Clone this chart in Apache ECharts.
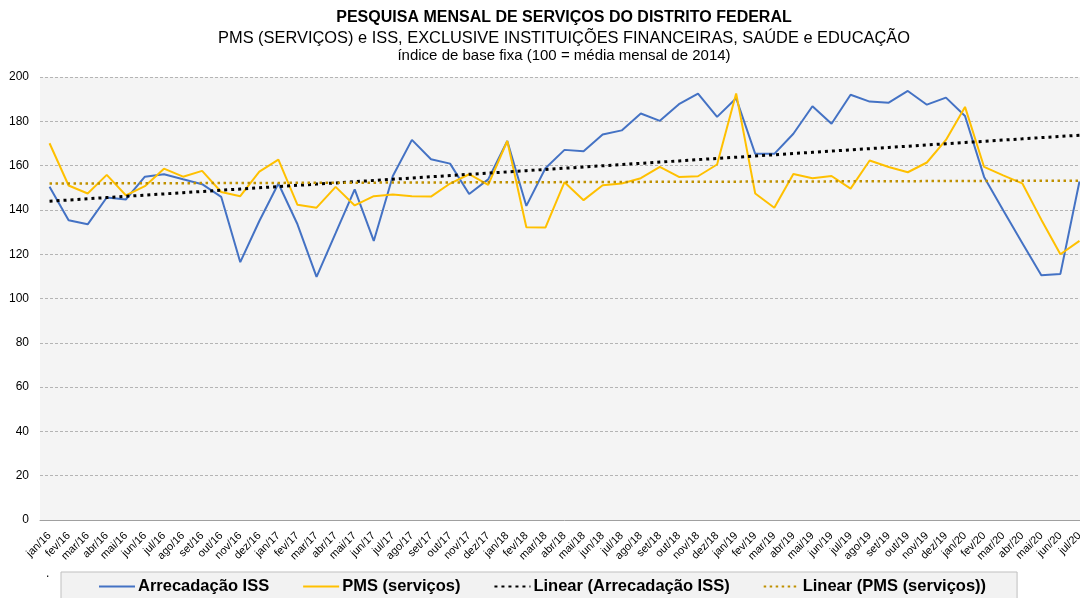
<!DOCTYPE html>
<html>
<head>
<meta charset="utf-8">
<script src="https://cdn.jsdelivr.net/npm/echarts@6/dist/echarts.min.js"></script>
<style>
  html, body { margin: 0; padding: 0; background: #fff; overflow: hidden; }
  /* o gráfico original é cortado na direita: a área útil passa da borda da imagem */
  #pms_iss_df { width: 1089px; height: 598px; }
</style>
</head>
<body>
<div id="pms_iss_df"></div>
<script>
  const meses = [
    'jan/16', 'fev/16', 'mar/16', 'abr/16', 'mai/16', 'jun/16', 'jul/16', 'ago/16', 'set/16', 'out/16', 'nov/16', 'dez/16',
    'jan/17', 'fev/17', 'mar/17', 'abr/17', 'mai/17', 'jun/17', 'jul/17', 'ago/17', 'set/17', 'out/17', 'nov/17', 'dez/17',
    'jan/18', 'fev/18', 'mar/18', 'abr/18', 'mai/18', 'jun/18', 'jul/18', 'ago/18', 'set/18', 'out/18', 'nov/18', 'dez/18',
    'jan/19', 'fev/19', 'mar/19', 'abr/19', 'mai/19', 'jun/19', 'jul/19', 'ago/19', 'set/19', 'out/19', 'nov/19', 'dez/19',
    'jan/20', 'fev/20', 'mar/20', 'abr/20', 'mai/20', 'jun/20', 'jul/20'
  ];

  const arrecadacaoISS = [
    150.5, 135.3, 133.5, 145.6, 144.7, 155.0, 156.1, 153.8, 151.6, 145.9, 116.4, 135.0,
    151.9, 133.5, 109.8, 129.5, 149.3, 126.0, 155.3, 171.6, 162.9, 160.9, 147.2, 153.8,
    171.1, 141.8, 158.8, 167.1, 166.5, 174.0, 175.9, 183.5, 180.2, 187.7, 192.5, 182.0,
    190.4, 165.3, 165.3, 174.4, 186.8, 178.9, 192.0, 188.9, 188.4, 193.7, 187.5, 190.7,
    182.4, 154.9, 139.8, 125.1, 110.5, 111.1, 152.8
  ];

  const pmsServicos = [
    170.1, 151.0, 147.4, 155.8, 146.6, 150.7, 158.6, 155.0, 157.6, 148.1, 146.2, 157.3,
    162.7, 142.3, 141.0, 150.4, 142.0, 146.2, 146.9, 146.2, 146.0, 151.9, 156.1, 151.3,
    171.1, 132.2, 132.0, 152.5, 144.4, 151.1, 151.9, 154.3, 159.4, 154.9, 155.2, 160.5,
    192.6, 147.4, 141.0, 156.2, 154.3, 155.3, 149.6, 162.3, 159.4, 157.0, 161.4, 171.6,
    186.5, 159.4, 155.6, 152.0, 135.6, 120.0, 126.0
  ];

  const yTicks = { min: 0, max: 200, interval: 20 };

  // tendência linear (mínimos quadrados), como a linha de tendência do Excel
  function tendencia(valores) {
    const n = valores.length;
    let sx = 0, sy = 0, sxy = 0, sxx = 0;
    valores.forEach((v, i) => {
      const x = i + 1;
      sx += x; sy += v; sxy += x * v; sxx += x * x;
    });
    const b = (n * sxy - sx * sy) / (n * sxx - sx * sx);
    const a = (sy - b * sx) / n;
    return valores.map((v, i) => +(a + b * (i + 1)).toFixed(2));
  }

  const fonte = '"Liberation Sans", Arial, sans-serif';
  const centroTitulo = 564;

  const option = {
    animation: false,
    title: [
      {
        text: 'PESQUISA MENSAL DE SERVIÇOS DO DISTRITO FEDERAL',
        left: centroTitulo,
        textAlign: 'center',
        top: 10,
        padding: 0,
        textStyle: { fontFamily: fonte, fontSize: 16, fontWeight: 'bold', color: '#000' }
      },
      {
        text: 'PMS (SERVIÇOS) e ISS, EXCLUSIVE INSTITUIÇÕES FINANCEIRAS, SAÚDE e EDUCAÇÃO',
        left: centroTitulo,
        textAlign: 'center',
        top: 30,
        padding: 0,
        textStyle: { fontFamily: fonte, fontSize: 16.4, fontWeight: 'normal', color: '#000' }
      },
      {
        text: 'índice de base fixa (100 = média mensal de 2014)',
        left: centroTitulo,
        textAlign: 'center',
        top: 48,
        padding: 0,
        textStyle: { fontFamily: fonte, fontSize: 15, fontWeight: 'normal', color: '#000' }
      }
    ],
    legend: {
      left: 61,
      top: 572,
      padding: [6, 31, 20, 37],
      itemGap: 33,
      itemWidth: 36,
      itemHeight: 12,
      backgroundColor: '#f2f2f2',
      borderColor: '#bfbfbf',
      borderWidth: 1,
      borderRadius: 0,
      itemStyle: { color: 'transparent', borderWidth: 0 },
      textStyle: { fontFamily: fonte, fontSize: 16.5, fontWeight: 'bold', color: '#000', padding: [0, 0, 0, -2] },
      data: ['Arrecadação ISS', 'PMS (serviços)', 'Linear (Arrecadação ISS)', 'Linear (PMS (serviços))']
    },
    grid: {
      left: 40,
      right: 0,
      top: 77,
      bottom: 78,
      show: true,
      backgroundColor: '#f4f4f4',
      borderWidth: 0
    },
    xAxis: {
      type: 'category',
      data: meses,
      boundaryGap: true,
      axisLine: { lineStyle: { color: '#a0a0a0', width: 1 } },
      axisTick: { show: false },
      axisLabel: {
        interval: 0,
        rotate: 45,
        margin: 14,
        fontFamily: fonte,
        fontSize: 11,
        color: '#000'
      }
    },
    yAxis: {
      type: 'value',
      min: yTicks.min,
      max: yTicks.max,
      interval: yTicks.interval,
      axisLine: { show: false },
      axisTick: { show: false },
      axisLabel: { margin: 11, fontFamily: fonte, fontSize: 12, color: '#000' },
      splitLine: { lineStyle: { type: [3, 2], color: '#b4b4b4', width: 1 } }
    },
    graphic: [
      { type: 'text', left: 46, top: 568, style: { text: '.', fontFamily: fonte, fontSize: 12, fill: '#000' } }
    ],
    series: [
      {
        name: 'Arrecadação ISS',
        type: 'line',
        data: arrecadacaoISS,
        symbol: 'none',
        lineStyle: { color: '#4472c4', width: 2 },
        itemStyle: { color: '#4472c4' },
        z: 3
      },
      {
        name: 'PMS (serviços)',
        type: 'line',
        data: pmsServicos,
        symbol: 'none',
        lineStyle: { color: '#ffc000', width: 2 },
        itemStyle: { color: '#ffc000' },
        z: 4
      },
      {
        name: 'Linear (Arrecadação ISS)',
        type: 'line',
        data: tendencia(arrecadacaoISS),
        symbol: 'none',
        silent: true,
        lineStyle: { color: '#000', width: 3, type: [3, 4] },
        itemStyle: { color: '#000' },
        z: 5
      },
      {
        name: 'Linear (PMS (serviços))',
        type: 'line',
        data: tendencia(pmsServicos),
        symbol: 'none',
        silent: true,
        lineStyle: { color: '#bf9000', width: 2.5, type: [2.5, 3.5] },
        itemStyle: { color: '#bf9000' },
        z: 5
      }
    ]
  };

  const grafico = echarts.init(document.getElementById('pms_iss_df'));
  grafico.setOption(option);
  window.addEventListener('resize', function () {
    grafico.resize();
  });
</script>
</body>
</html>
